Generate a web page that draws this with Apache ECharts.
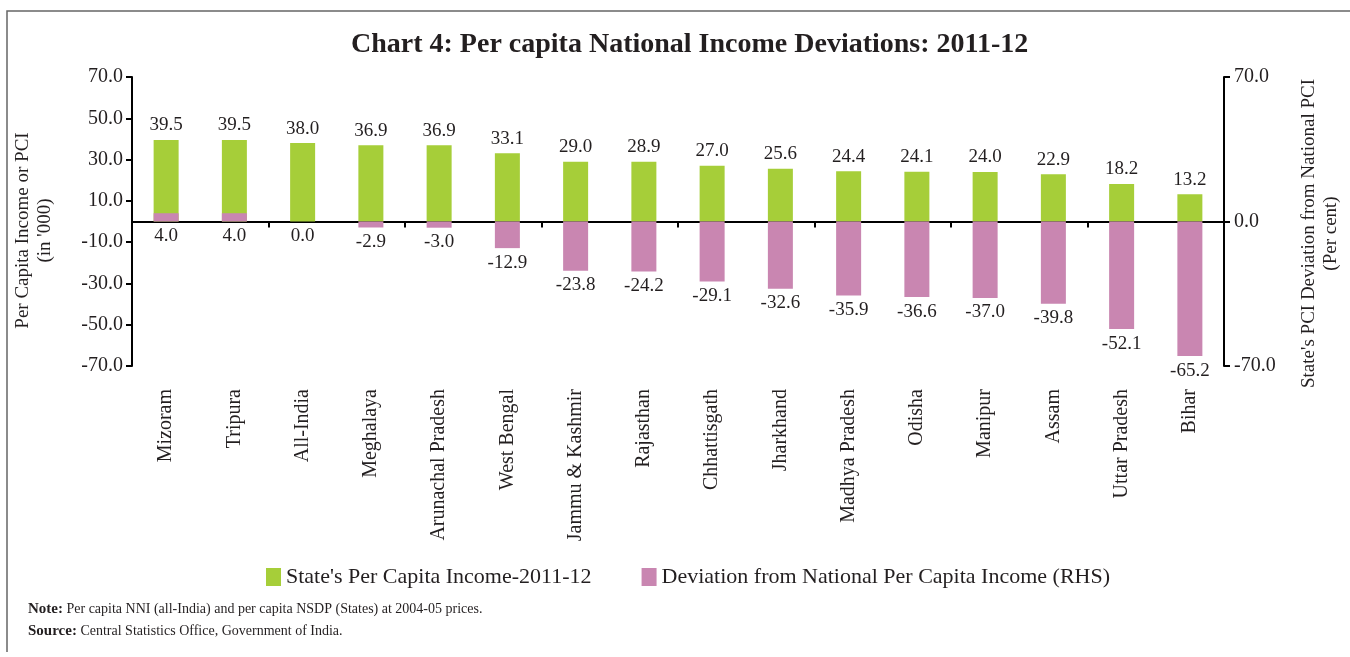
<!DOCTYPE html>
<html>
<head>
<meta charset="utf-8">
<script src="https://cdn.jsdelivr.net/npm/echarts@6/dist/echarts.min.js"></script>
<style>
  html, body { margin: 0; padding: 0; background: #fff; }
  #chart { width: 1350px; height: 657px; }
</style>
</head>
<body>
<div id="chart"></div>
<script>
  // categories and values
  const states = ['Mizoram', 'Tripura', 'All-India', 'Meghalaya', 'Arunachal Pradesh', 'West Bengal',
    'Jammu & Kashmir', 'Rajasthan', 'Chhattisgath', 'Jharkhand', 'Madhya Pradesh', 'Odisha',
    'Manipur', 'Assam', 'Uttar Pradesh', 'Bihar']
  const income = [39.5, 39.5, 38.0, 36.9, 36.9, 33.1, 29.0, 28.9, 27.0, 25.6, 24.4, 24.1, 24.0, 22.9, 18.2, 13.2]
  const deviation = [4.0, 4.0, 0.0, -2.9, -3.0, -12.9, -23.8, -24.2, -29.1, -32.6, -35.9, -36.6, -37.0, -39.8, -52.1, -65.2]
  const leftTicks = [-70, -50, -30, -10, 10, 30, 50, 70]
  const rightTicks = [-70, 0, 70]

  const font = 'Liberation Serif'
  const ink = '#231f20'
  const green = '#a6ce39'
  const pink = '#c986b1'
  const fmt = v => Number(v).toFixed(1)

  const chart = echarts.init(document.getElementById('chart'))
  chart.setOption({
    textStyle: { fontFamily: font, color: ink },
    animation: false,
    title: {
      text: 'Chart 4: Per capita National Income Deviations: 2011-12',
      left: 346,
      top: 26,
      textStyle: { fontFamily: font, fontSize: 28, fontWeight: 'bold', color: ink }
    },
    legend: {
      bottom: 64,
      left: 261,
      itemWidth: 15,
      itemHeight: 18,
      itemGap: 50,
      icon: 'rect',
      textStyle: { fontFamily: font, fontSize: 22, color: ink },
      data: ["State's Per Capita Income-2011-12", 'Deviation from National Per Capita Income (RHS)']
    },
    grid: { left: 132, right: 117, top: 77, bottom: 291 },
    xAxis: [
      {
        type: 'category',
        data: states,
        position: 'bottom',
        axisLine: { onZero: true, lineStyle: { color: '#000', width: 2 } },
        axisTick: { show: true, length: 6, lineStyle: { color: '#000', width: 2 } },
        axisLabel: { show: false }
      },
      {
        type: 'category',
        data: states,
        position: 'bottom',
        axisLine: { show: false, onZero: false },
        axisTick: { show: false },
        axisLabel: { rotate: 90, margin: 23, interval: 0, fontFamily: font, fontSize: 20, color: ink }
      }
    ],
    yAxis: [
      {
        type: 'value',
        min: -70,
        max: 70,
        name: "Per Capita Income or PCI\n(in '000)",
        nameLocation: 'middle',
        nameGap: 76,
        nameRotate: 90,
        nameTextStyle: { fontFamily: font, fontSize: 19, lineHeight: 22, color: ink, padding: [0, 18, 0, 0] },
        axisLine: { show: true, lineStyle: { color: '#000', width: 2 } },
        axisTick: { show: true, length: 6, customValues: leftTicks, lineStyle: { color: '#000', width: 2 } },
        axisLabel: { customValues: leftTicks, formatter: fmt, margin: 9, fontFamily: font, fontSize: 20, color: ink },
        splitLine: { show: false }
      },
      {
        type: 'value',
        min: -70,
        max: 70,
        interval: 70,
        position: 'right',
        name: "State's PCI Deviation from National PCI\n(Per cent)",
        nameLocation: 'middle',
        nameGap: 74,
        nameRotate: 90,
        nameTextStyle: { fontFamily: font, fontSize: 19, lineHeight: 22, color: ink, padding: [0, 24, 0, 0] },
        axisLine: { show: true, lineStyle: { color: '#000', width: 2 } },
        axisTick: { show: true, length: 6, lineStyle: { color: '#000', width: 2 } },
        axisLabel: { formatter: fmt, margin: 10, fontFamily: font, fontSize: 20, color: ink },
        splitLine: { show: false }
      }
    ],
    series: [
      {
        name: "State's Per Capita Income-2011-12",
        type: 'bar',
        xAxisIndex: 0,
        yAxisIndex: 0,
        data: income,
        barWidth: 25,
        barGap: '-100%',
        itemStyle: { color: green },
        label: { show: true, position: 'top', distance: 5, formatter: p => fmt(p.value), fontFamily: font, fontSize: 19, color: ink }
      },
      {
        name: 'Deviation from National Per Capita Income (RHS)',
        type: 'bar',
        xAxisIndex: 0,
        yAxisIndex: 1,
        data: deviation,
        barWidth: 25,
        barGap: '-100%',
        itemStyle: { color: pink },
        label: { show: true, position: 'bottom', distance: 5, formatter: p => fmt(p.value), fontFamily: font, fontSize: 19, color: ink }
      }
    ],
    graphic: [
      {
        type: 'polyline',
        shape: { points: [[7, 652], [7, 11], [1350, 11]] },
        style: { stroke: '#666', lineWidth: 1.5, fill: null }
      },
      {
        type: 'text',
        left: 28,
        top: 598,
        style: {
          text: '{b|Note:} Per capita NNI (all-India) and per capita NSDP (States) at 2004-05 prices.\n{b|Source:} Central Statistics Office, Government of India.',
          font: '14px "Liberation Serif"',
          fill: ink,
          lineHeight: 22,
          rich: {
            b: { fontWeight: 'bold', fontFamily: font, fontSize: 15, fill: ink }
          }
        }
      }
    ]
  })
</script>
</body>
</html>
